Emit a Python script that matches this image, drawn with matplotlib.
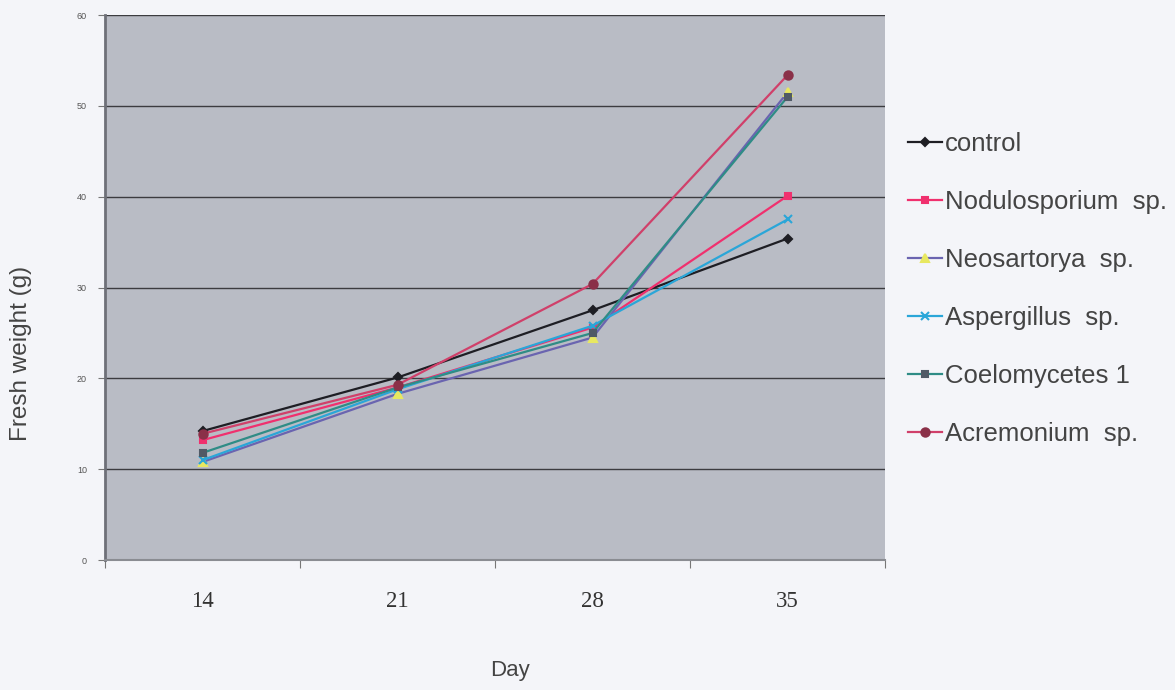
import matplotlib
matplotlib.use("Agg")
import matplotlib.pyplot as plt
import numpy as np

# Fresh weight (g) of seedlings measured on each sampling day
days = ["14", "21", "28", "35"]
series_names = ["control", "Nodulosporium  sp.", "Neosartorya  sp.",
                "Aspergillus  sp.", "Coelomycetes 1", "Acremonium  sp."]
control = [14.2, 20.1, 27.5, 35.4]
nodulosporium = [13.2, 19.0, 25.6, 40.1]
neosartorya = [10.8, 18.3, 24.5, 51.5]
aspergillus = [11.0, 18.8, 25.8, 37.5]
coelomycetes = [11.8, 19.0, 25.0, 51.0]
acremonium = [13.9, 19.3, 30.4, 53.4]
y_ticks = [0, 10, 20, 30, 40, 50, 60]

values = [control, nodulosporium, neosartorya, aspergillus, coelomycetes, acremonium]
line_colors = ["#1e1e24", "#f0306e", "#6a64b0", "#2aa6d8", "#2f8c86", "#d0406a"]
marker_colors = ["#1e1e24", "#f0306e", "#e8e860", "#2aa6d8", "#505a66", "#8a3048"]
markers = ["D", "s", "^", "x", "s", "o"]
marker_sizes = [4, 5, 6, 6, 4, 6]

fig = plt.figure(figsize=(11.75, 6.9), dpi=100, facecolor="#f4f5f9")
ax = fig.add_axes([0.0894, 0.1884, 0.6638, 0.7896])
ax.set_facecolor("#b9bcc5")

x = np.arange(len(days))
for vals, name, lc, mc, mk, ms in zip(values, series_names, line_colors,
                                      marker_colors, markers, marker_sizes):
    ax.plot(x, vals, color=lc, lw=1.6, marker=mk, markersize=ms,
            markerfacecolor=mc, markeredgecolor=mc, markeredgewidth=1.5,
            label=name, zorder=3)

ax.set_xlim(-0.5, 3.5)
ax.set_ylim(0, 60)
ax.set_yticks(y_ticks)
ax.set_yticklabels([str(v) for v in y_ticks], fontsize=6.5, color="#555555",
                   family="Liberation Sans")
ax.yaxis.grid(True, color="#3c3c40", lw=1.0)
ax.set_axisbelow(True)

# category boundaries carry the tick marks, labels sit at the centres
ax.set_xticks(np.arange(-0.5, 4.0, 1.0))
ax.set_xticklabels([])
ax.set_xticks(x, minor=True)
ax.set_xticklabels(days, minor=True, fontsize=16.5, family="Liberation Serif",
                   color="#333333")
ax.tick_params(axis="x", which="minor", length=0, pad=22)
ax.tick_params(axis="x", which="major", length=6, color="#777777", direction="out")
ax.tick_params(axis="y", length=5, color="#777777", direction="out", pad=8)

for side in ["top", "right"]:
    ax.spines[side].set_visible(False)
ax.spines["left"].set_color("#6e7078")
ax.spines["left"].set_linewidth(2.0)
ax.spines["bottom"].set_color("#8a8c92")
ax.spines["bottom"].set_linewidth(1.5)

ax.set_xlabel("Day", fontsize=16, family="Liberation Sans", color="#444444")
ax.xaxis.set_label_coords(0.519, -0.183)
ax.set_ylabel("Fresh weight (g)", fontsize=17.5, family="Liberation Sans",
              color="#444444")
ax.yaxis.set_label_coords(-0.094, 0.38)

leg = ax.legend(loc="upper left", bbox_to_anchor=(1.0, 0.828), frameon=False,
                labelspacing=1.32, handlelength=1.3, handletextpad=0.12,
                prop={"family": "Liberation Sans", "size": 18.5})
for t in leg.get_texts():
    t.set_color("#444444")

fig.savefig("out.png", dpi=100, facecolor=fig.get_facecolor())
